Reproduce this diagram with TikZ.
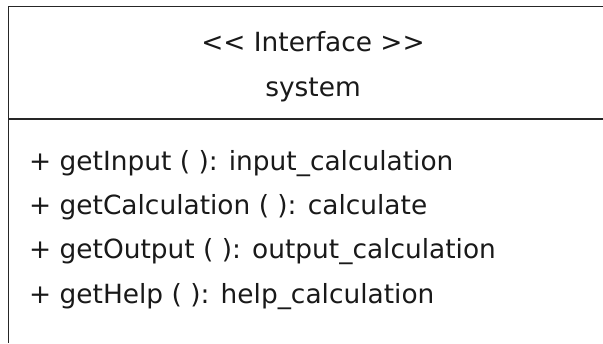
\documentclass[tikz,border=0pt]{standalone}
\usepackage{fontspec}
\setmainfont{DejaVu Sans}
\begin{document}
\begin{tikzpicture}[x=1bp,y=-1bp,
  frame/.style={draw=black!85, line width=1.4bp},
  txt/.style={inner sep=0pt, font=\fontsize{26.5}{30}\selectfont, text=black!90},
  head/.style={txt, anchor=base},
  member/.style={txt, anchor=base west},
]
\useasboundingbox (0,0) rectangle (603,343);
% class frame (open to the right and bottom)
\coordinate (tl) at (8.5,6.5);
\coordinate (tr) at (603,6.5);
\coordinate (bl) at (8.5,343);
\coordinate (dl) at (8.5,119);
\coordinate (dr) at (603,119);
\draw[frame] (tr) -- (tl) -- (bl);
\draw[frame] (dl) -- (dr);
% header
\node[head] (stereo) at (313,51) {<{}< Interface >{}>};
\node[head] (name) at (313,96.5) {system};
% operations
\node[member] (op1) at (29,170) {+ getInput ( ): input\_calculation};
\node[member] (op2) at (29,214.5) {+ getCalculation ( ): calculate};
\node[member] (op3) at (29,258.5) {+ getOutput ( ): output\_calculation};
\node[member] (op4) at (29,303) {+ getHelp ( ): help\_calculation};
\end{tikzpicture}
\end{document}
